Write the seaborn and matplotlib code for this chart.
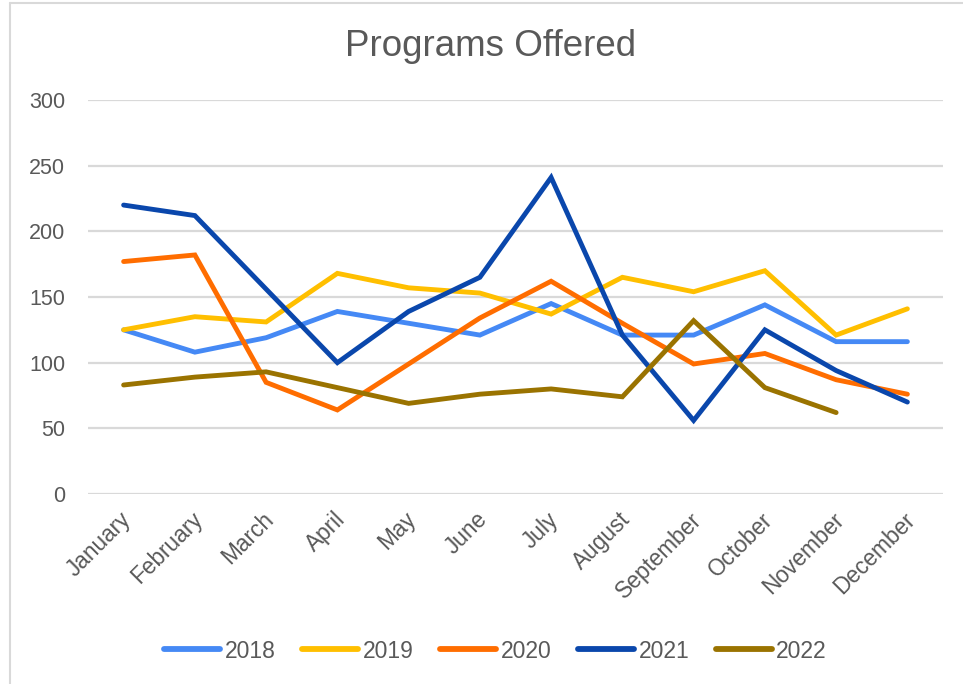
import numpy as np
import pandas as pd
import matplotlib
matplotlib.use("Agg")
import matplotlib.pyplot as plt
from matplotlib.lines import Line2D
import matplotlib.transforms as mtransforms
import seaborn as sns

months = ["January", "February", "March", "April", "May", "June", "July",
          "August", "September", "October", "November", "December"]
years = ["2018", "2019", "2020", "2021", "2022"]
v2018 = [125, 108, 119, 139, 130, 121, 145, 121, 121, 144, 116, 116]
v2019 = [125, 135, 131, 168, 157, 153, 137, 165, 154, 170, 121, 141]
v2020 = [177, 182, 85, 64, 99, 134, 162, 130, 99, 107, 87, 76]
v2021 = [220, 212, 156, 100, 139, 165, 241, 121, 56, 125, 94, 70]
v2022 = [83, 89, 93, 81, 69, 76, 80, 74, 132, 81, 62, np.nan]
colors = ["#4589F5", "#FFBF00", "#FF6D00", "#0A47AC", "#9A7300"]
y_ticks = [0, 50, 100, 150, 200, 250, 300]

series = [v2018, v2019, v2020, v2021, v2022]
rows = []
for yr, vals in zip(years, series):
    for i, (m, v) in enumerate(zip(months, vals)):
        rows.append({"month": m, "idx": i, "year": yr, "value": v})
df = pd.DataFrame(rows).dropna()

sns.set_theme(style="white")
plt.rcParams["font.family"] = ["Liberation Sans", "DejaVu Sans"]

fig = plt.figure(figsize=(9.63, 6.84), dpi=100)
ax = fig.add_axes([88 / 963, 1 - 494 / 684, (943 - 88) / 963, (494 - 100) / 684])

sns.lineplot(data=df, x="idx", y="value", hue="year", palette=colors,
             hue_order=years, linewidth=3.5, ax=ax, sort=True, legend=False)
for ln in ax.lines:
    ln.set_solid_capstyle("round")
    ln.set_solid_joinstyle("miter")

ax.set_xlim(-0.5, 11.5)
ax.set_ylim(0, 300)
ax.set_yticks(y_ticks)
ax.set_yticklabels([str(t) for t in y_ticks])
ax.set_xticks(range(len(months)))
ax.set_xticklabels(months, rotation=45, ha="right", rotation_mode="anchor")
ax.tick_params(axis="x", length=0, pad=10, labelsize=16.3, labelcolor="#595959")
ax.tick_params(axis="y", length=0, pad=16.5, labelsize=15.5, labelcolor="#595959")
offset = mtransforms.ScaledTranslation(-4 / 100, 0, fig.dpi_scale_trans)
for lbl in ax.get_xticklabels():
    lbl.set_transform(lbl.get_transform() + offset)
ax.set_xlabel("")
ax.set_ylabel("")
ax.grid(axis="y", color="#d9d9d9", linewidth=1.6)
ax.set_axisbelow(True)
for s in ax.spines.values():
    s.set_visible(False)

fig.text(491 / 963, 1 - 47 / 684, "Programs Offered", ha="center", va="center",
         fontsize=26.5, color="#595959")

handles = [Line2D([0], [0], color=c, linewidth=4.2, solid_capstyle="round") for c in colors]
leg = fig.legend(handles, years, loc="center", bbox_to_anchor=(495.5 / 963, 1 - 651 / 684),
                 ncol=5, frameon=False, fontsize=16.5, handlelength=2.45,
                 handletextpad=0.2, columnspacing=1.15)
for t in leg.get_texts():
    t.set_color("#595959")

# chart frame (left and top edges visible)
fig.add_artist(Line2D([10 / 963, 10 / 963], [0, 1 - 3 / 684], transform=fig.transFigure,
                      color="#d9d9d9", linewidth=1.5))
fig.add_artist(Line2D([10 / 963, 1], [1 - 3 / 684, 1 - 3 / 684], transform=fig.transFigure,
                      color="#d9d9d9", linewidth=1.5))

fig.savefig("out.png", dpi=100, facecolor="white")
